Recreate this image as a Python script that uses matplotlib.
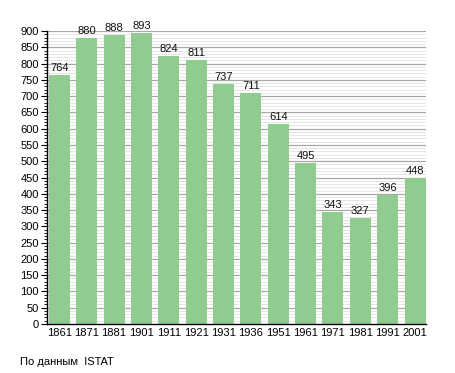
import matplotlib
matplotlib.use('Agg')
import matplotlib.pyplot as plt
import numpy as np

years = ['1861', '1871', '1881', '1901', '1911', '1921', '1931',
         '1936', '1951', '1961', '1971', '1981', '1991', '2001']
population = [764, 880, 888, 893, 824, 811, 737, 711, 614, 495, 343, 327, 396, 448]
source_note = 'По данным  ISTAT'

plt.rcParams['font.family'] = ['Liberation Sans', 'DejaVu Sans']

fig = plt.figure(figsize=(4.55, 3.73), dpi=100)
ax = fig.add_axes([47 / 455, 1 - 324 / 373, (426 - 47) / 455, (324 - 31) / 373])

x = np.arange(len(years))
ax.bar(x, population, width=0.77, color='#90cc90', zorder=2)

# grid lines: minor every 10, major every 50
for v in range(10, 901, 10):
    if v % 50 == 0:
        ax.axhline(v, color='#a8a8a8', lw=0.9, zorder=1)
    else:
        ax.axhline(v, color='#e2e2e2', lw=0.6, zorder=1)

for xi, v in zip(x, population):
    ax.text(xi, v + 6, str(v), ha='center', va='bottom', fontsize=8, color='#111111')

ax.set_xlim(-0.45, len(years) - 0.6)
ax.set_ylim(0, 900)
ax.set_xticks(x)
ax.set_xticklabels(years, fontsize=8)
ax.set_yticks(np.arange(0, 901, 50))
ax.set_yticks(np.arange(0, 901, 10), minor=True)
ax.tick_params(axis='y', which='major', length=4, width=0.8, labelsize=8, pad=2)
ax.tick_params(axis='y', which='minor', length=2.5, width=0.6)
ax.tick_params(axis='x', length=0, labelsize=8, pad=3)

ax.spines['top'].set_visible(False)
ax.spines['right'].set_visible(False)
ax.spines['left'].set_linewidth(1.0)
ax.spines['bottom'].set_linewidth(1.0)

fig.text(20 / 455, 1 - 362 / 373, source_note, fontsize=8, va='center', ha='left')

fig.savefig('out.png', dpi=100)
